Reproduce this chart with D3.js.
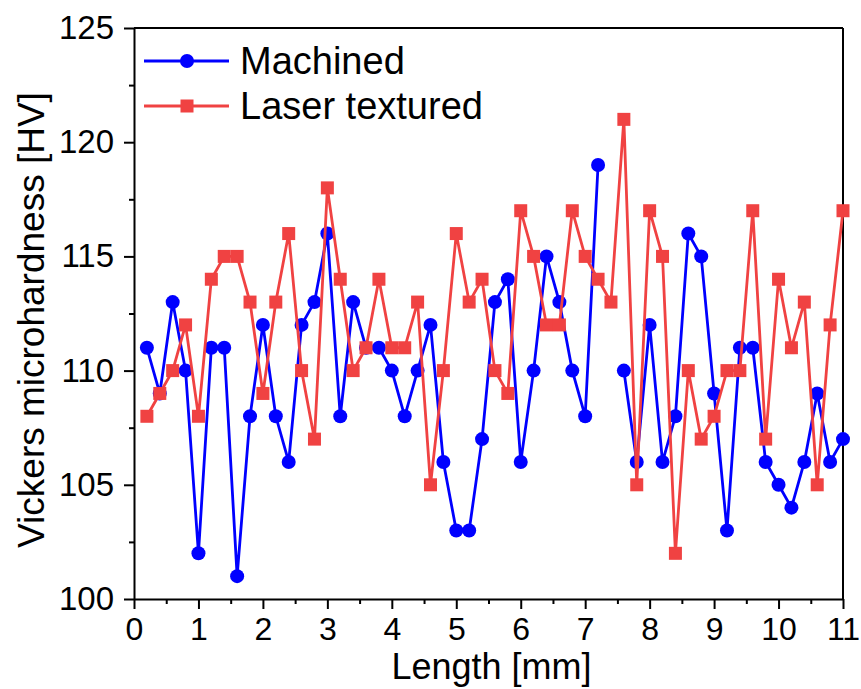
<!DOCTYPE html>
<html>
<head>
<meta charset="utf-8">
<script src="https://cdn.jsdelivr.net/npm/d3@7"></script>
<style>
  html, body { margin: 0; padding: 0; background: #fff; }
  text { font-family: Arial, "Liberation Sans", sans-serif; fill: #000; }
</style>
</head>
<body>
<div id="chart"></div>
<script>
(function () {
    // Measurement positions along the sample [mm]
    const lengths = [0.2, 0.4, 0.6, 0.8, 1.0, 1.2, 1.4, 1.6, 1.8, 2.0,
                     2.2, 2.4, 2.6, 2.8, 3.0, 3.2, 3.4, 3.6, 3.8, 4.0,
                     4.2, 4.4, 4.6, 4.8, 5.0, 5.2, 5.4, 5.6, 5.8, 6.0,
                     6.2, 6.4, 6.6, 6.8, 7.0, 7.2, 7.4, 7.6, 7.8, 8.0,
                     8.2, 8.4, 8.6, 8.8, 9.0, 9.2, 9.4, 9.6, 9.8, 10.0,
                     10.2, 10.4, 10.6, 10.8, 11.0];

    // Vickers microhardness [HV]
    const machined = [111, 109, 113, 110, 102, 111, 111, 101, 108, 112,
                      108, 106, 112, 113, 116, 108, 113, 111, 111, 110,
                      108, 110, 112, 106, 103, 103, 107, 113, 114, 106,
                      110, 115, 113, 110, 108, 119, null, 110, 106, 112,
                      106, 108, 116, 115, 109, 103, 111, 111, 106, 105,
                      104, 106, 109, 106, 107];

    const laserTextured = [108, 109, 110, 112, 108, 114, 115, 115, 113, 109,
                           113, 116, 110, 107, 118, 114, 110, 111, 114, 111,
                           111, 113, 105, 110, 116, 113, 114, 110, 109, 117,
                           115, 112, 112, 117, 115, 114, 113, 121, 105, 117,
                           115, 102, 110, 107, 108, 110, 110, 117, 107, 114,
                           111, 113, 105, 112, 117];

    const xTicks = [0, 1, 2, 3, 4, 5, 6, 7, 8, 9, 10, 11];
    const yTicks = [100, 105, 110, 115, 120, 125];

    const series = [
        { name: "Machined", values: machined, color: "#0000ff", marker: "circle" },
        { name: "Laser textured", values: laserTextured, color: "#f04242", marker: "square" }
    ];

    const W = 861, H = 689;
    const margin = { top: 28, right: 18, bottom: 90, left: 134 };
    const width = W - margin.left - margin.right;
    const height = H - margin.top - margin.bottom;
    const font = "Arial, 'Liberation Sans', sans-serif";

    const svg = d3.select("#chart")
      .append("svg")
        .attr("width", W)
        .attr("height", H)
      .append("g")
        .attr("transform", `translate(${margin.left},${margin.top})`);

    const x = d3.scaleLinear().domain([0, 11]).range([0, width]);
    const y = d3.scaleLinear().domain([100, 125]).range([height, 0]);

    // minor ticks
    const xMinor = d3.range(0.5, 11, 1);
    const yMinor = d3.range(102.5, 125, 5);

    svg.append("g")
      .attr("transform", `translate(0,${height})`)
      .call(d3.axisBottom(x).tickValues(xMinor).tickSize(5).tickFormat(""))
      .call(g => g.select(".domain").remove())
      .selectAll("line").attr("stroke", "#000").attr("stroke-width", 2);

    svg.append("g")
      .call(d3.axisLeft(y).tickValues(yMinor).tickSize(5).tickFormat(""))
      .call(g => g.select(".domain").remove())
      .selectAll("line").attr("stroke", "#000").attr("stroke-width", 2);

    // X axis
    const xAxis = svg.append("g")
      .attr("transform", `translate(0,${height})`)
      .call(d3.axisBottom(x).tickValues(xTicks).tickSize(10).tickSizeOuter(0).tickPadding(8).tickFormat(d3.format("d")));
    xAxis.select(".domain").attr("stroke", "#000").attr("stroke-width", 2);
    xAxis.selectAll("line").attr("stroke", "#000").attr("stroke-width", 2);
    xAxis.selectAll("text")
      .style("font-size", "32px")
      .style("font-family", font)
      .attr("fill", "#000");

    // Y axis
    const yAxis = svg.append("g")
      .call(d3.axisLeft(y).tickValues(yTicks).tickSize(10).tickSizeOuter(0).tickPadding(10));
    yAxis.select(".domain").attr("stroke", "#000").attr("stroke-width", 2);
    yAxis.selectAll("line").attr("stroke", "#000").attr("stroke-width", 2);
    yAxis.selectAll("text")
      .style("font-size", "33px")
      .style("font-family", font)
      .attr("fill", "#000");

    // top and right frame
    svg.append("line")
      .attr("x1", 0).attr("x2", width).attr("y1", 0).attr("y2", 0)
      .attr("stroke", "#000").attr("stroke-width", 2);
    svg.append("line")
      .attr("x1", width).attr("x2", width).attr("y1", 0).attr("y2", height)
      .attr("stroke", "#000").attr("stroke-width", 2);

    // Lines and markers
    series.forEach(s => {
        const pts = lengths.map((l, i) => ({ x: l, y: s.values[i] }));
        const line = d3.line()
          .defined(d => d.y !== null)
          .x(d => x(d.x))
          .y(d => y(d.y));

        svg.append("path")
          .datum(pts)
          .attr("fill", "none")
          .attr("stroke", s.color)
          .attr("stroke-width", 2.8)
          .attr("d", line);

        const valid = pts.filter(d => d.y !== null);
        if (s.marker === "circle") {
            svg.append("g").selectAll("circle")
              .data(valid)
              .enter()
              .append("circle")
                .attr("cx", d => x(d.x))
                .attr("cy", d => y(d.y))
                .attr("r", 7)
                .attr("fill", s.color);
        } else {
            svg.append("g").selectAll("rect")
              .data(valid)
              .enter()
              .append("rect")
                .attr("x", d => x(d.x) - 6.5)
                .attr("y", d => y(d.y) - 6.5)
                .attr("width", 13)
                .attr("height", 13)
                .attr("fill", s.color);
        }
    });

    // Axis titles
    svg.append("text")
      .attr("x", width / 2 + 3)
      .attr("y", height + 80)
      .attr("text-anchor", "middle")
      .style("font-size", "36px")
      .text("Length [mm]");

    svg.append("text")
      .attr("transform", `translate(${44 - margin.left},${320 - margin.top}) rotate(-90)`)
      .attr("text-anchor", "middle")
      .style("font-size", "37px")
      .text("Vickers microhardness [HV]");

    // Legend
    const legend = svg.append("g");
    series.forEach((s, i) => {
        const ly = 33 + i * 45;
        legend.append("line")
          .attr("x1", 10).attr("x2", 95)
          .attr("y1", ly).attr("y2", ly)
          .attr("stroke", s.color)
          .attr("stroke-width", 2.8);
        if (s.marker === "circle") {
            legend.append("circle")
              .attr("cx", 53).attr("cy", ly).attr("r", 7)
              .attr("fill", s.color);
        } else {
            legend.append("rect")
              .attr("x", 46.5).attr("y", ly - 6.5)
              .attr("width", 13).attr("height", 13)
              .attr("fill", s.color);
        }
        legend.append("text")
          .attr("x", 106)
          .attr("y", ly + 13)
          .style("font-size", "38px")
          .text(s.name);
    });
})();
</script>
</body>
</html>
